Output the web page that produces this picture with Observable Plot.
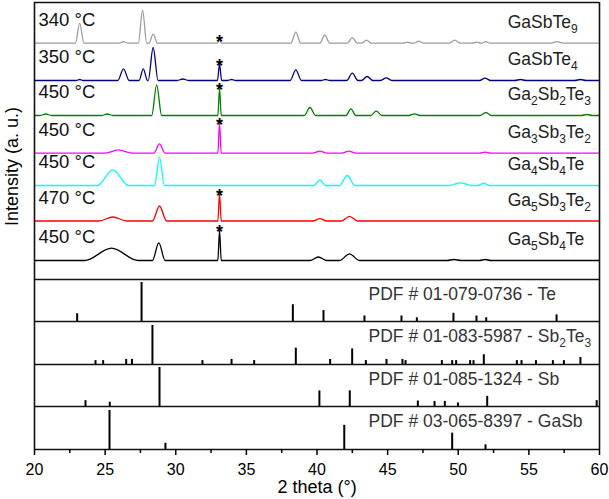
<!DOCTYPE html>
<html><head><meta charset="utf-8">
<script src="https://cdn.jsdelivr.net/npm/d3@7"></script>
<script src="https://cdn.jsdelivr.net/npm/@observablehq/plot@0.6"></script>
<style>
html,body{margin:0;padding:0;background:#fff;}
#chart{width:609px;height:499px;}
</style></head><body><div id="chart"></div>
<script>
// ---------- data ----------
const samples = ["GaSbTe_9", "GaSbTe_4", "Ga_2Sb_2Te_3", "Ga_3Sb_3Te_2", "Ga_4Sb_4Te", "Ga_5Sb_3Te_2", "Ga_5Sb_4Te"];
const temperatures = ["340 °C", "350 °C", "450 °C", "450 °C", "450 °C", "470 °C", "450 °C"];
// vertical offset of each pattern (a.u.)
const offsets = [406.3, 369, 334, 296.3, 264, 228.5, 189];
// peaks: [2theta, intensity above baseline (a.u.), half width (deg)]
const peaksGaSbTe9 = [[23.2,20,0.3],[26.3,1.5,0.3],[27.65,33,0.3],[28.4,9,0.3],[33.1,3,0.15],[38.5,11,0.35],[40.55,8,0.35],[42.5,5.5,0.35],[43.5,3,0.35],[46.4,1,0.3],[47.2,2,0.35],[49.75,3,0.4],[51.3,1,0.3],[51.95,1.5,0.3],[57.0,1.5,0.4]];
const peaksGaSbTe4 = [[23.2,1,0.25],[26.3,11.7,0.4],[27.7,11.7,0.3],[28.4,33,0.35],[30.5,1.5,0.4],[33.1,16,0.15],[33.95,1,0.3],[38.5,10.7,0.4],[40.6,1,0.3],[42.5,7.3,0.4],[43.55,4,0.4],[44.9,2.7,0.4],[51.9,2.3,0.4],[54.4,1,0.4],[58.65,1,0.4]];
const peaksGa2Sb2Te3 = [[20.8,1.5,0.4],[25.15,1.5,0.4],[28.65,30.7,0.35],[33.1,27,0.12],[39.5,8,0.4],[42.4,6.7,0.35],[44.2,4.3,0.4],[46.9,1.7,0.4],[51.95,3,0.4],[59.1,1,0.4]];
const peaksGa3Sb3Te2 = [[25.95,3.3,1.0],[28.85,9.4,0.4],[33.1,30,0.12],[40.2,2,0.5],[42.25,2,0.5],[51.9,1,0.4]];
const peaksGa4Sb4Te = [[25.55,15.7,1.1],[28.85,28.3,0.35],[40.2,5.7,0.4],[42.14,10,0.55],[50.15,2.7,0.8],[51.8,2.3,0.4]];
const peaksGa5Sb3Te2 = [[25.55,4,1.0],[28.85,15,0.5],[33.1,27,0.12],[40.2,2.3,0.5],[42.3,4.7,0.6]];
const peaksGa5Sb4Te = [[25.45,12.3,1.9],[28.8,17.7,0.45],[33.1,30,0.12],[40.1,3.5,0.6],[42.3,6.7,0.7],[49.7,1,0.5],[51.9,1,0.4]];
const patternPeaks = [peaksGaSbTe9, peaksGaSbTe4, peaksGa2Sb2Te3, peaksGa3Sb3Te2, peaksGa4Sb4Te, peaksGa5Sb3Te2, peaksGa5Sb4Te];
const impurity2theta = 33.1;

// reference cards: [2theta, relative intensity %]
const refNames = ["PDF # 01-079-0736 - Te", "PDF # 01-083-5987 - Sb_2Te_3", "PDF # 01-085-1324 - Sb", "PDF # 03-065-8397 - GaSb"];
const refTe = [[23.02,20],[27.58,100],[38.29,43],[40.46,28],[43.36,14],[45.98,14],[47.07,9.5],[49.66,21],[51.29,14],[51.98,9.5],[56.96,17]];
const refSb2Te3 = [[24.32,10],[24.86,10],[26.49,13],[26.9,13],[28.35,100],[31.89,10],[33.95,13],[35.55,10],[38.5,42],[40.93,13],[42.49,40],[43.46,10],[44.92,13],[46.05,13],[46.27,10],[48.84,10],[49.57,10],[49.85,10],[50.84,10],[51.08,10],[51.81,25],[54.15,10],[54.48,10],[55.5,10],[56.7,10],[57.48,10],[58.65,18]];
const refSb = [[23.61,15],[25.33,11],[28.85,100],[40.17,40],[42.32,40],[47.14,14],[48.32,13],[49.05,13],[49.98,9],[52.05,26],[59.8,15]];
const refGaSb = [[25.31,100],[29.27,16],[41.93,62],[49.57,42],[51.93,12]];
const refCards = [refTe, refSb2Te3, refSb, refGaSb];
// panel limits of the reference cards (a.u., bottom..top)
const refBases = [128, 85, 43, 0];
const refTops = [170, 128, 85, 43];
const patternTop = 447;

const majorTicks = [20, 25, 30, 35, 40, 45, 50, 55, 60];
const minorTicks = [22.5, 27.5, 32.5, 37.5, 42.5, 47.5, 52.5, 57.5];
const xLabel = "2 theta (°)";
const yLabel = "Intensity (a. u.)";

// ---------- styles ----------
const colors = ["#9c9c9c", "#000080", "#008000", "#ff00ff", "#00ffff", "#ff0000", "#000000"];
const FONT = "'Liberation Sans', Arial, Helvetica, sans-serif";

// ---------- build tables ----------
const traceRows = [];
samples.forEach((s, i) => {
  const pts = [[20, 0]];
  for (const [c, h, w] of patternPeaks[i]) pts.push([c - w, 0], [c, h], [c + w, 0]);
  pts.push([60, 0]);
  for (const [x, v] of pts) traceRows.push({sample: s, x, y: offsets[i] + v});
});
const stars = [];
samples.forEach((s, i) => {
  const p = patternPeaks[i].find(d => d[0] === impurity2theta);
  if (p) stars.push({x: impurity2theta, y: offsets[i] + p[1]});
});
const sampleLabels = samples.map((s, i) => ({name: s, temp: temperatures[i], y: offsets[i]}));
const stickRows = [];
refCards.forEach((card, k) => card.forEach(([x, r]) => stickRows.push({x, base: refBases[k], top: refBases[k] + r * 0.39})));
const refLabelRows = refNames.map((n, k) => ({name: n, y: refTops[k]}));
const bounds = [0, ...refTops, patternTop];

const svg = Plot.plot({
  width: 609, height: 499,
  marginLeft: 34, marginRight: 10, marginTop: 2, marginBottom: 50,
  style: {fontFamily: FONT, color: "#000", background: "#fff"},
  x: {domain: [20, 60]},
  y: {domain: [0, patternTop], axis: null},
  color: {domain: samples, range: colors},
  marks: [
    Plot.ruleX(stickRows, {x: "x", y1: "base", y2: "top", stroke: "#000", strokeWidth: 2}),
    Plot.line(traceRows, {x: "x", y: "y", z: "sample", stroke: "sample", curve: "monotone-x", strokeWidth: 1.3}),
    Plot.text(stars, {x: "x", y: "y", text: () => "*", fontSize: 18, fontWeight: "bold", lineAnchor: "middle", dy: 2, fill: "#000"}),
    Plot.text(sampleLabels, {x: 20, y: "y", text: "temp", textAnchor: "start", dx: 4, dy: -23, fontSize: 18.5, fill: "#111"}),
    Plot.text(sampleLabels, {x: 53.5, y: "y", text: "name", textAnchor: "start", dy: -21, fontSize: 17.5, fill: "#222"}),
    Plot.text(refLabelRows, {x: 43.65, y: "y", text: "name", textAnchor: "start", dy: 15, fontSize: 17.5, fill: "#333"}),
    Plot.ruleY(bounds, {stroke: "#111", strokeWidth: 1.6}),
    Plot.ruleX([20, 60], {stroke: "#111", strokeWidth: 1.6}),
    Plot.axisX({ticks: minorTicks, tickSize: 4, tickFormat: () => "", label: null, strokeWidth: 1.5}),
    Plot.axisX({ticks: majorTicks, tickSize: 6, tickPadding: 8, fontSize: 16, label: null, strokeWidth: 1.5}),
    Plot.text([xLabel], {frameAnchor: "bottom", dy: 38, fontSize: 18, lineAnchor: "middle", fill: "#000"}),
    Plot.text([yLabel], {frameAnchor: "left", rotate: -90, dx: -22, fontSize: 18, lineAnchor: "middle", fill: "#000"})
  ]
});

// subscripts: "_n" -> real subscript tspans
d3.select(svg).selectAll("text").each(function() {
  const t = this.textContent;
  if (!t.includes("_")) return;
  const sel = d3.select(this);
  sel.text("");
  const parts = t.split(/_(\d+)/);
  let shifted = false;
  parts.forEach((p, i) => {
    if (!p) return;
    const ts = sel.append("tspan").text(p);
    if (i % 2 === 1) { ts.attr("dy", 5).attr("font-size", 12); shifted = true; }
    else if (shifted) { ts.attr("dy", -5); shifted = false; }
  });
});
document.getElementById("chart").appendChild(svg);
</script>
</body></html>
